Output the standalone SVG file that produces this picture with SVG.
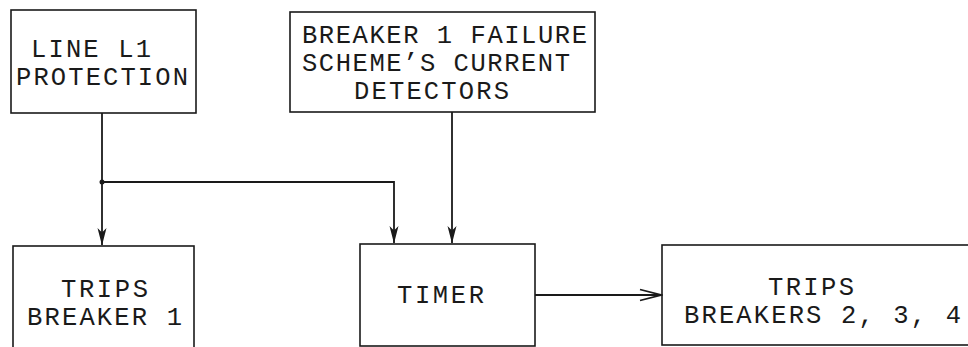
<svg xmlns="http://www.w3.org/2000/svg" width="968" height="347" viewBox="0 0 968 347">
<style>
.box{fill:none;stroke:#1a1a1a;stroke-width:1.6}
.t{font-family:"Liberation Mono","Courier New",monospace;font-size:25.5px;fill:#1a1a1a}
.c{fill:none;stroke:#1a1a1a;stroke-width:1.8}
</style>
<defs>
<marker id="ah" markerUnits="userSpaceOnUse" markerWidth="18" markerHeight="10" refX="17.5" refY="5" orient="auto" viewBox="0 0 18 10">
<path d="M18 5 L0.5 0.5 L5 5 L0.5 9.5 Z" fill="#1a1a1a"/>
</marker>
<marker id="ov" markerUnits="userSpaceOnUse" markerWidth="24" markerHeight="14" refX="22" refY="7" orient="auto" viewBox="0 0 24 14">
<path d="M1 1.5 L22 7 L1 12.5" fill="none" stroke="#1a1a1a" stroke-width="1.8"/>
</marker>
</defs>
<g id="line-l1-protection">
<rect class="box" x="11" y="10" width="185" height="103"/>
<text class="t" x="31" y="57" textLength="120">LINE L1</text>
<text class="t" x="16" y="85" textLength="172">PROTECTION</text>
</g>
<g id="bf-detectors">
<rect class="box" x="290" y="12" width="305" height="100"/>
<text class="t" x="302" y="43" textLength="285">BREAKER 1 FAILURE</text>
<text class="t" x="302" y="71" textLength="268">SCHEME’S CURRENT</text>
<text class="t" x="354" y="99" textLength="155">DETECTORS</text>
</g>
<g id="trips-breaker-1">
<rect class="box" x="13" y="246" width="181" height="110"/>
<text class="t" x="61" y="297" textLength="87">TRIPS</text>
<text class="t" x="27" y="325" textLength="155">BREAKER 1</text>
</g>
<g id="timer">
<rect class="box" x="360" y="244" width="175" height="102"/>
<text class="t" x="397" y="303" textLength="87">TIMER</text>
</g>
<g id="trips-breakers-234">
<rect class="box" x="662" y="245" width="320" height="100"/>
<text class="t" x="768" y="295" textLength="86">TRIPS</text>
<text class="t" x="684" y="323" textLength="277">BREAKERS 2, 3, 4</text>
</g>
<g id="connectors">
<path class="c" d="M102 113 V245" marker-end="url(#ah)"/>
<path class="c" d="M102 182 H394 V243" marker-end="url(#ah)"/>
<circle cx="102" cy="182" r="2.5" fill="#1a1a1a"/>
<path class="c" d="M452 112 V243" marker-end="url(#ah)"/>
<path class="c" d="M535 295 H661" marker-end="url(#ov)"/>
</g>
</svg>
